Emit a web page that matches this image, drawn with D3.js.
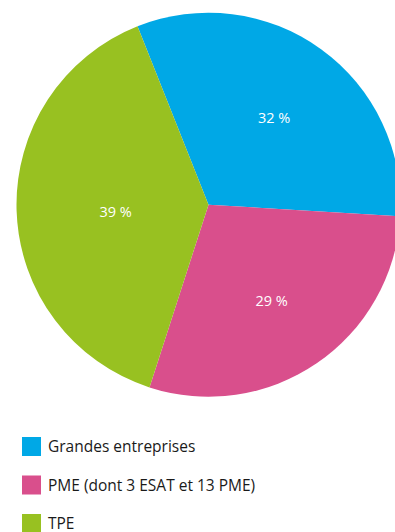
<!DOCTYPE html>
<html><head><meta charset="utf-8">
<script src="https://cdn.jsdelivr.net/npm/d3@7"></script>
<style>body{margin:0;background:#fff;}svg{display:block;}</style>
</head><body>
<script>
const categories = ["Grandes entreprises", "PME (dont 3 ESAT et 13 PME)", "TPE"];
const values = [32, 29, 39];
const labels = ["32 %", "29 %", "39 %"];
const colors = ["#00a8e6", "#d94f8c", "#98c121"];

const W = 395, H = 532;
const cx = 208.5, cy = 204.7, R = 192;
const startDeg = -21.7;
const labelR = [112, 112, 93];

const svg = d3.select("body").append("svg").attr("width", W).attr("height", H);
const pie = d3.pie().sort(null).value(d => d)
  .startAngle(startDeg * Math.PI / 180)
  .endAngle(startDeg * Math.PI / 180 + 2 * Math.PI);
const arcs = pie(values);
const arc = d3.arc().innerRadius(0).outerRadius(R);
const g = svg.append("g").attr("transform", `translate(${cx},${cy})`);
g.selectAll("path").data(arcs).join("path")
  .attr("d", arc).attr("fill", (d, i) => colors[i]);
g.selectAll("text").data(arcs).join("text")
  .attr("transform", (d, i) => {
    const a = (d.startAngle + d.endAngle) / 2;
    return `translate(${labelR[i] * Math.sin(a)},${-labelR[i] * Math.cos(a) + 4})`;
  })
  .attr("text-anchor", "middle").attr("dy", "0.35em")
  .attr("fill", "#fff").attr("font-family", "Open Sans, sans-serif")
  .attr("font-size", 14.5).text((d, i) => labels[i]);

const leg = svg.append("g").attr("transform", "translate(22,437)");
const rows = leg.selectAll("g").data(categories).join("g")
  .attr("transform", (d, i) => `translate(0,${i * 38.5})`);
rows.append("rect").attr("width", 19).attr("height", 19).attr("fill", (d, i) => colors[i]);
rows.append("text").attr("x", 26).attr("y", 10).attr("dy", "0.35em")
  .attr("font-family", "Open Sans, sans-serif").attr("font-size", 15.5)
  .attr("fill", "#1a1a1a").text(d => d);
</script>
</body></html>
